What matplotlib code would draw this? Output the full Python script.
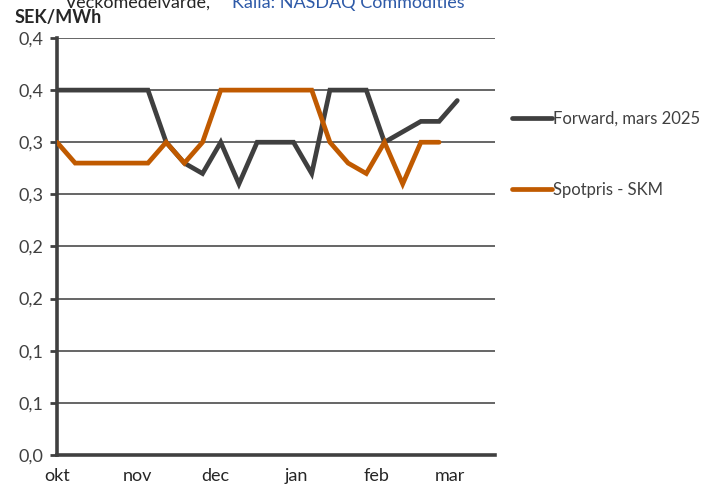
import matplotlib.pyplot as plt
import numpy as np

# veckomedelvärden, SEK/MWh
forward = [0.35, 0.35, 0.35, 0.35, 0.35, 0.35, 0.30, 0.28, 0.27, 0.30, 0.26, 0.30,
           0.30, 0.30, 0.27, 0.35, 0.35, 0.35, 0.30, 0.31, 0.32, 0.32, 0.34]
spot = [0.30, 0.28, 0.28, 0.28, 0.28, 0.28, 0.30, 0.28, 0.30, 0.35, 0.35, 0.35,
        0.35, 0.35, 0.35, 0.30, 0.28, 0.27, 0.30, 0.26, 0.30, 0.30]
months = ['okt', 'nov', 'dec', 'jan', 'feb', 'mar']
month_days = [31, 30, 31, 31, 28, 31]
y_ticks = [0.0, 0.05, 0.10, 0.15, 0.20, 0.25, 0.30, 0.35, 0.40]

plt.rcParams['font.family'] = ['Lato', 'DejaVu Sans']

x_fwd = np.arange(len(forward)) * 7
x_spot = np.arange(len(spot)) * 7
month_pos = np.concatenate([[0], np.cumsum(month_days)[:-1]])

fig = plt.figure(figsize=(7.07, 4.87), dpi=100)
ax = fig.add_axes([0.0806, 0.0657, 0.6195, 0.8563])

fwd_color = '#3f3f3f'
spot_color = '#c05a00'
ax.plot(x_fwd, forward, color=fwd_color, lw=3.4, solid_capstyle='round',
        solid_joinstyle='miter', label='Forward, mars 2025', zorder=3)
ax.plot(x_spot, spot, color=spot_color, lw=3.4, solid_capstyle='round',
        solid_joinstyle='miter', label='Spotpris - SKM', zorder=3)

ax.set_ylim(0, 0.40)
ax.set_xlim(0, 168.5)
ax.set_yticks(y_ticks)
ax.set_yticklabels([('%.1f' % (v + 1e-9)).replace('.', ',') for v in y_ticks])
ax.set_xticks(month_pos)
ax.set_xticklabels(months)
ax.yaxis.grid(True, color='#595959', lw=1.3)
ax.set_axisbelow(True)

for s in ['top', 'right']:
    ax.spines[s].set_visible(False)
ax.spines['left'].set_linewidth(2.6)
ax.spines['bottom'].set_linewidth(2.6)
ax.spines['left'].set_color('#404040')
ax.spines['bottom'].set_color('#404040')
ax.tick_params(axis='y', length=5, width=2, color='#404040', labelsize=13,
               labelcolor='#404040', pad=5)
ax.tick_params(axis='x', length=0, labelsize=13, labelcolor='#262626', pad=9)

fig.text(0.021, 0.965, 'SEK/MWh', fontsize=13, fontweight='bold', color='#262626',
         va='center')
fig.text(0.092, 0.994, 'Veckomedelvärde,', fontsize=13, color='#262626', va='center')
fig.text(0.328, 0.994, 'Källa: NASDAQ Commodities', fontsize=13, color='#2e5aa8',
         va='center')

fig.legend(loc='upper left', bbox_to_anchor=(0.703, 0.803), frameon=False,
           handlelength=2.4, handletextpad=0.05, labelspacing=3.3, fontsize=12,
           labelcolor='#404040')

fig.savefig('out.png', dpi=100)
